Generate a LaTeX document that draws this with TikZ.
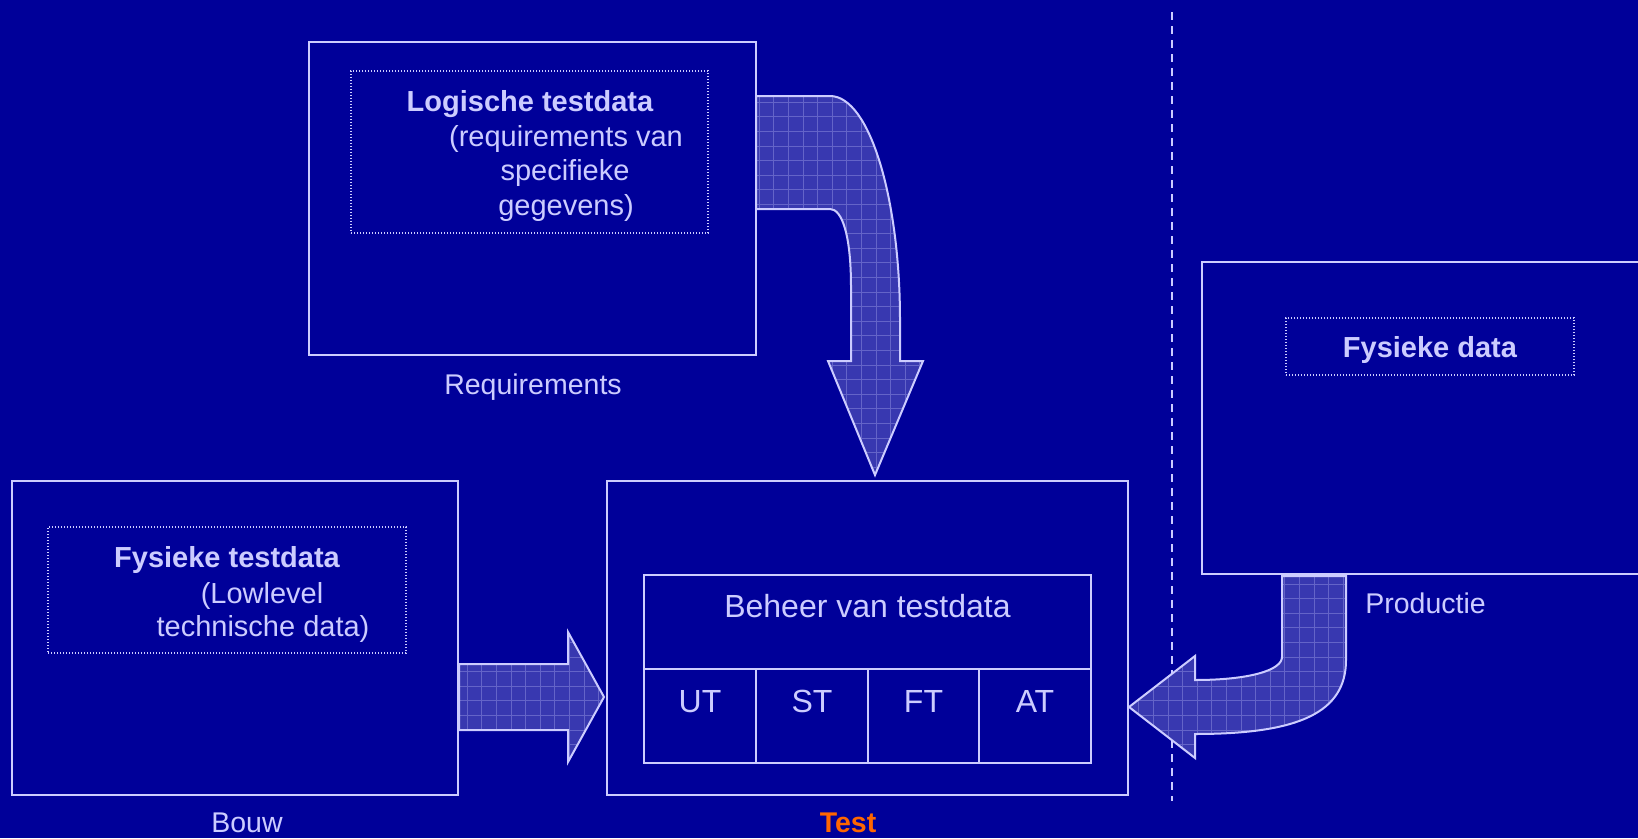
\documentclass[tikz,border=0pt]{standalone}
\usepackage{fontspec}
\setmainfont{Liberation Sans}
\definecolor{bgblue}{HTML}{000099}
\definecolor{lineclr}{HTML}{CCCCFF}
\definecolor{txtclr}{HTML}{CCCCFF}
\definecolor{arrowfill}{HTML}{3838B0}
\definecolor{gridclr}{HTML}{6464C8}
\definecolor{testorange}{HTML}{FF6600}
\tikzset{
  box/.style={draw=lineclr, line width=2pt, rectangle, inner sep=0pt},
  dotbox/.style={draw=lineclr, line width=1.3pt, dash pattern=on 1.3pt off 1.7pt, rectangle, inner sep=0pt},
  cell/.style={draw=lineclr, line width=2pt, rectangle, inner sep=0pt},
  txt/.style={text=txtclr, inner sep=0pt, anchor=base, font=\fontsize{29}{35}\selectfont},
  btxt/.style={txt, font=\fontsize{29}{35}\selectfont\bfseries},
  bigtxt/.style={txt, font=\fontsize{32}{38}\selectfont},
  lbl/.style={txt, font=\fontsize{28.5}{34}\selectfont},
  arrowline/.style={draw=lineclr, line width=2pt, line join=miter},
  gridlines/.style={draw=gridclr, line width=0.7pt},
  sepline/.style={draw=lineclr, line width=2pt, dash pattern=on 8pt off 6pt}
}
\newcommand{\gridarrow}[1]{%
  \fill[arrowfill] #1;
  \begin{scope}
    \clip #1;
    \draw[gridlines, step=14.6pt] (0,0) grid (1638,838);
  \end{scope}
  \draw[arrowline] #1;
}
\begin{document}
\begin{tikzpicture}[x=1pt, y=-1pt]
  \fill[bgblue] (0,0) rectangle (1638,838);
  \useasboundingbox (0,0) rectangle (1638,838);

  % separator
  \coordinate (sepTop) at (1172,12);
  \coordinate (sepBot) at (1172,801);
  \draw[sepline] (sepTop) -- (sepBot);

  % Requirements box
  \node[box, minimum width=447pt, minimum height=313pt] (req) at (532.5,198.5) {};
  \node[dotbox, minimum width=357pt, minimum height=162pt] (reqin) at (529.5,152) {};
  \node[btxt] (req1) at (530,111) {Logische testdata};
  \node[txt] (req2) at (566,146) {(requirements van};
  \node[txt] (req3) at (565,180) {specifieke};
  \node[txt] (req4) at (566,215) {gegevens)};
  \node[lbl] (reqlbl) at (533,394) {Requirements};

  % Bouw box
  \node[box, minimum width=446pt, minimum height=314pt] (bouw) at (235,638) {};
  \node[dotbox, minimum width=358pt, minimum height=126pt] (bouwin) at (227,590) {};
  \node[btxt] (bouw1) at (227,567) {Fysieke testdata};
  \node[txt] (bouw2) at (262,603) {(Lowlevel};
  \node[txt] (bouw3) at (263,636) {technische data)};
  \node[lbl] (bouwlbl) at (247,832) {Bouw};

  % Test box
  \node[box, minimum width=521pt, minimum height=314pt] (test) at (867.5,638) {};
  \node[cell, minimum width=447pt, minimum height=94pt] (beheer) at (867.5,622) {};
  \node[bigtxt] (beheertxt) at (867.5,617) {Beheer van testdata};
  \node[cell, minimum width=112pt, minimum height=94pt] (ut) at (700,716) {};
  \node[cell, minimum width=112pt, minimum height=94pt] (st) at (812,716) {};
  \node[cell, minimum width=111pt, minimum height=94pt] (ft) at (923.5,716) {};
  \node[cell, minimum width=112pt, minimum height=94pt] (at) at (1035,716) {};
  \node[bigtxt] (uttxt) at (700,712) {UT};
  \node[bigtxt] (sttxt) at (812,712) {ST};
  \node[bigtxt] (fttxt) at (923.5,712) {FT};
  \node[bigtxt] (attxt) at (1035,712) {AT};
  \node[lbl, text=testorange, font=\fontsize{28.5}{34}\selectfont\bfseries] (testlbl) at (848,832) {Test};

  % Productie box (open on the right)
  \coordinate (prodTR) at (1650,262);
  \coordinate (prodBR) at (1650,574);
  \draw[lineclr, line width=2pt] (prodTR) -- (1202,262) -- (1202,574) -- (prodBR);
  \node[dotbox, minimum width=288pt, minimum height=57pt] (prodin) at (1430,346.5) {};
  \node[btxt] (prod1) at (1430,357) {Fysieke data};
  \node[lbl] (prodlbl) at (1425.5,613) {Productie};

  % arrow Requirements -> Test
  \gridarrow{(756,96) -- (830,96) .. controls (870,96) and (900,200) .. (900,320) -- (900,361) -- (923,361) -- (875,475) -- (828,361) -- (851,361) -- (851,287) .. controls (851,235) and (842,209) .. (830,209) -- (756,209) -- cycle}

  % arrow Bouw -> Test
  \gridarrow{(459,664) -- (568,664) -- (568,632) -- (604,697) -- (568,762) -- (568,730) -- (459,730) -- cycle}

  % arrow Productie -> Test
  \gridarrow{(1282,576) -- (1282,657) .. controls (1282,670) and (1250,680) .. (1195,680) -- (1195,656) -- (1129,707) -- (1195,758) -- (1195,734) .. controls (1300,734) and (1346,712) .. (1346,660) -- (1346,576) -- cycle}
\end{tikzpicture}
\end{document}
